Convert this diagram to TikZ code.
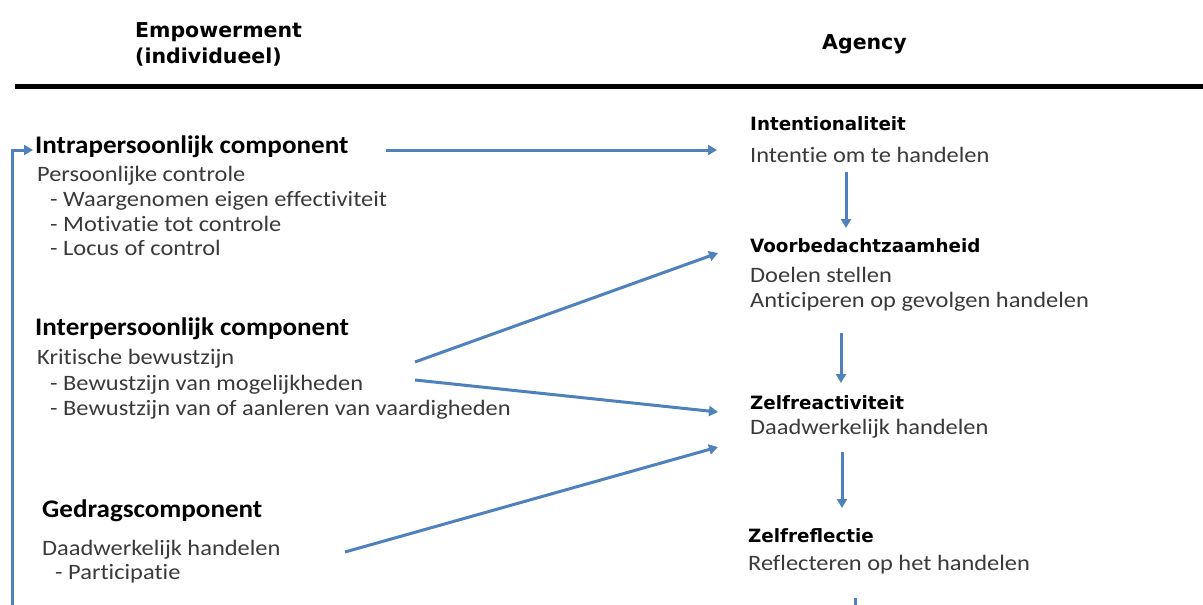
\documentclass[tikz,border=0pt]{standalone}
\usepackage{fontspec}
\setmainfont{Carlito}
\newfontfamily\bodyf[FakeStretch=1.11,Ligatures=NoCommon]{Carlito}
\newfontfamily\headf[FakeStretch=1.07,Ligatures=NoCommon]{Carlito}
\newfontfamily\boldf{DejaVu Sans}
\usetikzlibrary{arrows.meta}
\definecolor{ablue}{HTML}{4F81BD}
\definecolor{bodygray}{HTML}{3A3A3A}
\tikzset{
  body/.style={anchor=base west, inner sep=0pt, text=bodygray, font=\bodyf\fontsize{22}{26}\selectfont},
  lhead/.style={anchor=base west, inner sep=0pt, text=black, font=\headf\bfseries\fontsize{25.3}{30}\selectfont},
  rhead/.style={anchor=base west, inner sep=0pt, text=black, font=\boldf\bfseries\fontsize{18.3}{22}\selectfont},
  tophead/.style={anchor=base west, inner sep=0pt, text=black, font=\boldf\bfseries\fontsize{20.5}{25}\selectfont},
  arr/.style={draw=ablue, line width=3pt, -{Triangle[length=9pt,width=10pt]}},
  plainline/.style={draw=ablue, line width=3pt}
}
\begin{document}
\begin{tikzpicture}[x=1pt,y=-1pt]
\useasboundingbox[fill=white] (0,0) rectangle (1203,605);
% headers
\node[tophead] (emp) at (135,37.5) {Empowerment};
\node[tophead] (ind) at (135,63) {(individueel)};
\node[tophead] (agency) at (822,49) {Agency};
\coordinate (rulel) at (15,86);
\coordinate (ruler) at (1203,86);
\draw[line width=5pt, black] (rulel) -- (ruler);
% left column
\node[lhead] (intra) at (35,153) {Intrapersoonlijk component};
\node[body] (pc) at (37,181) {Persoonlijke controle};
\node[body] (pc1) at (50,206) {- Waargenomen eigen effectiviteit};
\node[body] (pc2) at (50,231) {- Motivatie tot controle};
\node[body] (pc3) at (50,255) {- Locus of control};
\node[lhead] (inter) at (35,335) {Interpersoonlijk component};
\node[body] (kb) at (37,364) {Kritische bewustzijn};
\node[body] (kb1) at (50,390) {- Bewustzijn van mogelijkheden};
\node[body] (kb2) at (50,415) {- Bewustzijn van of aanleren van vaardigheden};
\node[lhead] (gedrag) at (42,517) {Gedragscomponent};
\node[body] (dh) at (42,555) {Daadwerkelijk handelen};
\node[body] (dh1) at (55,579) {- Participatie};
% right column
\node[rhead] (int) at (750,130) {Intentionaliteit};
\node[body] (int1) at (750,162) {Intentie om te handelen};
\node[rhead] (voor) at (750,252) {Voorbedachtzaamheid};
\node[body] (voor1) at (750,282) {Doelen stellen};
\node[body] (voor2) at (750,307) {Anticiperen op gevolgen handelen};
\node[rhead] (zr) at (750,409) {Zelfreactiviteit};
\node[body] (zr1) at (750,434) {Daadwerkelijk handelen};
\node[rhead] (zf) at (748,542) {Zelfreflectie};
\node[body] (zf1) at (748,570) {Reflecteren op het handelen};
% connector end points
\coordinate (a1s) at (386,150);
\coordinate (a1e) at (717,150);
\coordinate (a2s) at (846,172);
\coordinate (a2e) at (846,228);
\coordinate (a3s) at (415,362);
\coordinate (a3e) at (718,253);
\coordinate (a4s) at (415,380);
\coordinate (a4e) at (718,412);
\coordinate (a5s) at (345,552);
\coordinate (a5e) at (718,447);
\coordinate (a6s) at (841,333);
\coordinate (a6e) at (841,383);
\coordinate (a7s) at (842,452);
\coordinate (a7e) at (842,508);
\coordinate (a8s) at (855,598);
\coordinate (a8e) at (855,605);
\coordinate (fbs) at (12,605);
\coordinate (fbe) at (33,150);
\draw[arr] (a1s) -- (a1e);
\draw[arr] (a2s) -- (a2e);
\draw[arr] (a3s) -- (a3e);
\draw[arr] (a4s) -- (a4e);
\draw[arr] (a5s) -- (a5e);
\draw[arr] (a6s) -- (a6e);
\draw[arr] (a7s) -- (a7e);
\draw[plainline] (a8s) -- (a8e);
\draw[arr] (fbs) |- (fbe);
\end{tikzpicture}
\end{document}
